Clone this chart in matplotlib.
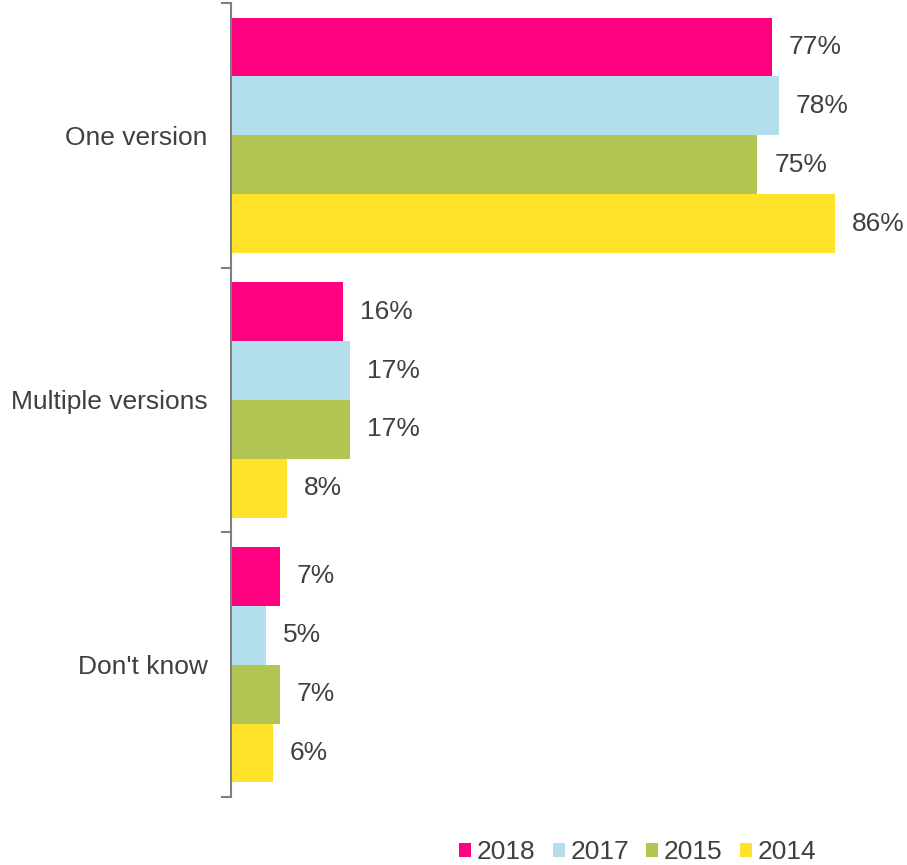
import matplotlib
matplotlib.use("Agg")
import matplotlib.pyplot as plt
from matplotlib.patches import Patch
import numpy as np

plt.rcParams['font.family'] = ['Liberation Sans', 'DejaVu Sans']

categories = ["One version", "Multiple versions", "Don't know"]
years = ["2018", "2017", "2015", "2014"]
v2018 = [77, 16, 7]
v2017 = [78, 17, 5]
v2015 = [75, 17, 7]
v2014 = [86, 8, 6]
series = [v2018, v2017, v2015, v2014]
colors = ["#FF0080", "#B3DFEC", "#B2C452", "#FFE32B"]
text_color = "#404040"

fig = plt.figure(figsize=(9.07, 8.65), dpi=100)
ax = fig.add_axes([231/907, 68/865, 1 - 231/907, 794/865])

h = 0.2226
y = np.arange(len(categories))
for k, (vals, c) in enumerate(zip(series, colors)):
    pos = y + (k - 1.5) * h
    ax.barh(pos, vals, height=h, color=c, edgecolor='none')
    for p, v in zip(pos, vals):
        ax.text(v + 2.4, p, f"{v}%", va='center', ha='left', fontsize=19, color=text_color)

ax.set_ylim(2.5, -0.5)
ax.set_xlim(0, 96.3)
ax.set_yticks(y)
ax.set_yticklabels(categories, fontsize=19, color=text_color)
ax.tick_params(axis='y', which='major', length=0, pad=17)
ax.set_yticks([-0.5, 0.5, 1.5, 2.5], minor=True)
ax.tick_params(axis='y', which='minor', length=7, width=1.5, color='#808080')
ax.set_xticks([])
for s in ['top', 'right', 'bottom']:
    ax.spines[s].set_visible(False)
ax.spines['left'].set_color('#808080')
ax.spines['left'].set_linewidth(1.5)

handles = [Patch(facecolor=c, edgecolor='none', label=yr) for c, yr in zip(colors, years)]
fig.legend(handles=handles, loc='center', bbox_to_anchor=(0.703, 0.015), ncol=4,
           frameon=False, fontsize=19, handlelength=0.45, handleheight=0.45,
           handletextpad=0.22, columnspacing=0.65, labelcolor=text_color)

fig.savefig("out.png", dpi=100)
